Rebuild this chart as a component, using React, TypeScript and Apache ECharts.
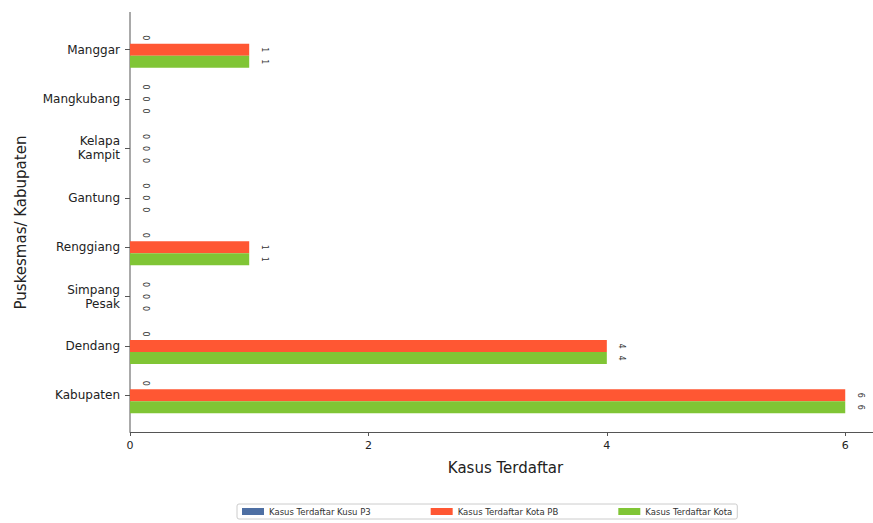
import React, { useEffect, useRef } from "react";
import * as echarts from "echarts";

const categories = [
  "Manggar",
  "Mangkubang",
  "Kelapa\nKampit",
  "Gantung",
  "Renggiang",
  "Simpang\nPesak",
  "Dendang",
  "Kabupaten",
];
const seriesNames = [
  "Kasus Terdaftar Kusu P3",
  "Kasus Terdaftar Kota PB",
  "Kasus Terdaftar Kota",
];
const valuesP3 = [0, 0, 0, 0, 0, 0, 0, 0];
const valuesPB = [1, 0, 0, 0, 1, 0, 4, 6];
const valuesKota = [1, 0, 0, 0, 1, 0, 4, 6];
const xTicks = [0, 2, 4, 6];

const colors = ["#4E6FA3", "#FF5733", "#80C535"];
const FONT = "DejaVu Sans";

export default function App() {
  const ref = useRef<HTMLDivElement>(null);
  useEffect(() => {
    if (!ref.current) return;
    const chart = echarts.init(ref.current, null, { renderer: "svg" });
    const seriesData = [valuesP3, valuesPB, valuesKota];
    chart.setOption({
      animation: false,
      textStyle: { fontFamily: FONT },
      grid: { left: 130, right: 10, top: 25, bottom: 103 },
      legend: {
        data: seriesNames,
        bottom: 4,
        left: 237,
        itemWidth: 22,
        itemHeight: 7,
        itemGap: 60,
        padding: [3, 5],
        borderColor: "#cccccc",
        borderWidth: 1,
        borderRadius: 2,
        icon: "rect",
        textStyle: { fontSize: 8.5, color: "#333", fontFamily: FONT },
      },
      xAxis: {
        type: "value",
        min: 0,
        max: 6.3,
        interval: 2,
        offset: 12,
        name: "Kasus Terdaftar",
        nameLocation: "middle",
        nameGap: 28,
        nameTextStyle: { fontSize: 15, color: "#222", fontFamily: FONT },
        axisLine: { show: true, lineStyle: { color: "#555", width: 1 } },
        axisTick: { show: true, length: 4, lineStyle: { color: "#555" } },
        axisLabel: {
          fontSize: 11,
          color: "#222",
          margin: 8,
          showMaxLabel: false,
          formatter: (v: number) => (xTicks.includes(v) ? String(v) : ""),
        },
        splitLine: { show: false },
      },
      yAxis: {
        type: "category",
        data: categories,
        inverse: true,
        name: "Puskesmas/ Kabupaten",
        nameLocation: "middle",
        nameGap: 102,
        nameTextStyle: { fontSize: 15, color: "#222", fontFamily: FONT },
        axisLine: { show: false },
        axisTick: {
          show: true,
          alignWithLabel: true,
          length: 5,
          lineStyle: { color: "#555" },
        },
        axisLabel: { fontSize: 12, color: "#222", margin: 10, lineHeight: 14 },
      },
      graphic: [
        {
          type: "line",
          shape: { x1: 130, y1: 12, x2: 130, y2: 432 },
          style: { stroke: "#555", lineWidth: 1 },
          silent: true,
        },
      ],
      series: seriesNames.map((name, i) => ({
        name,
        type: "bar",
        data: seriesData[i],
        barWidth: 12,
        barGap: "0%",
        itemStyle: { color: colors[i] },
        label: {
          show: true,
          position: "right",
          distance: 15,
          rotate: -90,
          fontSize: 8,
          color: "#333",
          align: "center",
          verticalAlign: "middle",
        },
      })),
    });
    return () => chart.dispose();
  }, []);
  return (
    <div style={{ width: 873, height: 523, position: "absolute", left: 0, top: 0, overflow: "hidden" }}>
      <div ref={ref} style={{ width: 891, height: 523 }} />
    </div>
  );
}
